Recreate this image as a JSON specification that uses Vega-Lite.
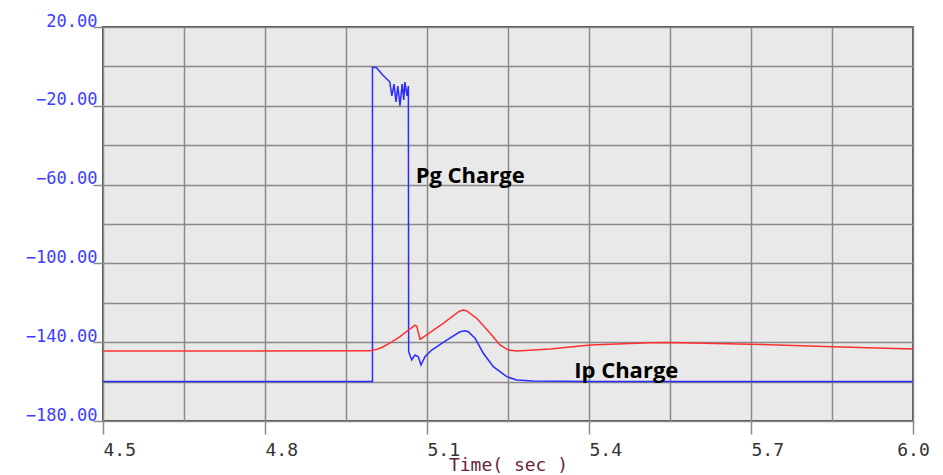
{
  "$schema": "https://vega.github.io/schema/vega-lite/v6.json",
  "width": 810,
  "height": 394,
  "autosize": "none",
  "padding": {"left": 103, "top": 27, "right": 30, "bottom": 54},
  "background": "white",
  "config": {
    "view": {"fill": "#e9e9e9", "stroke": "#4f4f4f", "strokeWidth": 2},
    "axis": {"grid": true, "gridColor": "#8a8a8a", "gridWidth": 1.5, "gridOpacity": 1, "domain": false}
  },
  "datasets": {
    "lines": [
      {"series": "Pg", "i": 1, "t": 4.5, "v": -160},
      {"series": "Pg", "i": 2, "t": 4.999, "v": -160},
      {"series": "Pg", "i": 3, "t": 4.999, "v": -0.5},
      {"series": "Pg", "i": 4, "t": 5.006, "v": -0.6},
      {"series": "Pg", "i": 5, "t": 5.018, "v": -4.4},
      {"series": "Pg", "i": 6, "t": 5.031, "v": -7.8},
      {"series": "Pg", "i": 7, "t": 5.035, "v": -15},
      {"series": "Pg", "i": 8, "t": 5.039, "v": -9},
      {"series": "Pg", "i": 9, "t": 5.0426, "v": -18},
      {"series": "Pg", "i": 10, "t": 5.046, "v": -10},
      {"series": "Pg", "i": 11, "t": 5.05, "v": -20},
      {"series": "Pg", "i": 12, "t": 5.054, "v": -9},
      {"series": "Pg", "i": 13, "t": 5.057, "v": -17},
      {"series": "Pg", "i": 14, "t": 5.059, "v": -8},
      {"series": "Pg", "i": 15, "t": 5.063, "v": -15},
      {"series": "Pg", "i": 16, "t": 5.0655, "v": -10},
      {"series": "Pg", "i": 17, "t": 5.066, "v": -144.8},
      {"series": "Pg", "i": 18, "t": 5.0717, "v": -149},
      {"series": "Pg", "i": 19, "t": 5.0778, "v": -146.5},
      {"series": "Pg", "i": 20, "t": 5.0839, "v": -147.4},
      {"series": "Pg", "i": 21, "t": 5.0889, "v": -151.6},
      {"series": "Pg", "i": 22, "t": 5.0963, "v": -147.4},
      {"series": "Pg", "i": 23, "t": 5.1087, "v": -144},
      {"series": "Pg", "i": 24, "t": 5.1365, "v": -138.9},
      {"series": "Pg", "i": 25, "t": 5.1611, "v": -134.7},
      {"series": "Pg", "i": 26, "t": 5.1704, "v": -134.2},
      {"series": "Pg", "i": 27, "t": 5.1765, "v": -134.7},
      {"series": "Pg", "i": 28, "t": 5.1889, "v": -138},
      {"series": "Pg", "i": 29, "t": 5.2043, "v": -145.6},
      {"series": "Pg", "i": 30, "t": 5.2228, "v": -152.4},
      {"series": "Pg", "i": 31, "t": 5.2476, "v": -157.5},
      {"series": "Pg", "i": 32, "t": 5.2661, "v": -159.2},
      {"series": "Pg", "i": 33, "t": 5.2963, "v": -159.7},
      {"series": "Pg", "i": 34, "t": 5.4, "v": -160},
      {"series": "Pg", "i": 35, "t": 6.0, "v": -160},
      {"series": "Ip", "i": 1, "t": 4.5, "v": -144.5},
      {"series": "Ip", "i": 2, "t": 4.994, "v": -144.4},
      {"series": "Ip", "i": 3, "t": 5.008, "v": -143.6},
      {"series": "Ip", "i": 4, "t": 5.019, "v": -142.3},
      {"series": "Ip", "i": 5, "t": 5.035, "v": -139.8},
      {"series": "Ip", "i": 6, "t": 5.05, "v": -137.2},
      {"series": "Ip", "i": 7, "t": 5.0778, "v": -131.3},
      {"series": "Ip", "i": 8, "t": 5.081, "v": -131.8},
      {"series": "Ip", "i": 9, "t": 5.087, "v": -138.5},
      {"series": "Ip", "i": 10, "t": 5.09, "v": -138},
      {"series": "Ip", "i": 11, "t": 5.13, "v": -130.4},
      {"series": "Ip", "i": 12, "t": 5.16, "v": -124.3},
      {"series": "Ip", "i": 13, "t": 5.167, "v": -123.7},
      {"series": "Ip", "i": 14, "t": 5.173, "v": -124},
      {"series": "Ip", "i": 15, "t": 5.192, "v": -127.9},
      {"series": "Ip", "i": 16, "t": 5.217, "v": -135.5},
      {"series": "Ip", "i": 17, "t": 5.235, "v": -141.4},
      {"series": "Ip", "i": 18, "t": 5.2506, "v": -144},
      {"series": "Ip", "i": 19, "t": 5.266, "v": -144.5},
      {"series": "Ip", "i": 20, "t": 5.297, "v": -144},
      {"series": "Ip", "i": 21, "t": 5.328, "v": -143.5},
      {"series": "Ip", "i": 22, "t": 5.402, "v": -141.4},
      {"series": "Ip", "i": 23, "t": 5.513, "v": -140.3},
      {"series": "Ip", "i": 24, "t": 5.55, "v": -140.1},
      {"series": "Ip", "i": 25, "t": 5.698, "v": -141},
      {"series": "Ip", "i": 26, "t": 5.852, "v": -142.3},
      {"series": "Ip", "i": 27, "t": 6.0, "v": -143.5}
    ],
    "labels": [
      {"label": "Pg Charge", "t": 5.18, "v": -55.6},
      {"label": "Ip Charge", "t": 5.469, "v": -154.6}
    ]
  },
  "encoding": {
    "x": {
      "field": "t", "type": "quantitative",
      "scale": {"domain": [4.5, 6.0], "nice": false, "zero": false},
      "axis": {
        "values": [4.5, 4.65, 4.8, 4.95, 5.1, 5.25, 5.4, 5.55, 5.7, 5.85, 6.0],
        "labelExpr": "abs((datum.value-4.5)/0.3 - round((datum.value-4.5)/0.3)) < 0.01 ? format(datum.value, '.1f') : ''",
        "labelFont": "DejaVu Sans Mono", "labelFontSize": 18, "labelColor": "#333333",
        "labelAlign": {"condition": {"test": "datum.value > 5.99", "value": "center"}, "value": "left"},
        "labelBaseline": "top", "labelPadding": 7, "labelOverlap": false, "labelBound": false, "labelFlush": false,
        "tickSize": 13, "tickColor": "#8a8a8a", "tickWidth": 1.5,
        "tickOpacity": {"condition": {"test": "abs((datum.value-4.5)/0.3 - round((datum.value-4.5)/0.3)) < 0.01", "value": 1}, "value": 0},
        "title": "Time( sec )", "titleFont": "DejaVu Sans Mono", "titleFontSize": 18, "titleFontWeight": "normal",
        "titleColor": "#6b1f3a", "titleBaseline": "top", "titleY": 35
      }
    },
    "y": {
      "field": "v", "type": "quantitative",
      "scale": {"domain": [-180, 20], "nice": false, "zero": false},
      "axis": {
        "values": [-180, -160, -140, -120, -100, -80, -60, -40, -20, 0, 20],
        "labelExpr": "(20 - datum.value) % 40 === 0 ? format(datum.value, '.2f') : ''",
        "labelFont": "DejaVu Sans Mono", "labelFontSize": 17, "labelColor": "#3d3dff",
        "labelAlign": "right", "labelBaseline": "alphabetic", "labelOffset": -1, "labelPadding": -4,
        "labelOverlap": false, "labelBound": false, "labelFlush": false,
        "tickSize": 10, "tickColor": "#8a8a8a", "tickWidth": 1.5,
        "tickOpacity": {"condition": {"test": "(20 - datum.value) % 40 === 0", "value": 1}, "value": 0},
        "title": null
      }
    }
  },
  "layer": [
    {
      "data": {"name": "lines"},
      "mark": {"type": "line", "strokeWidth": 1.5, "interpolate": "linear"},
      "encoding": {
        "order": {"field": "i", "type": "quantitative"},
        "detail": {"field": "series"},
        "color": {"field": "series", "type": "nominal", "scale": {"domain": ["Pg", "Ip"], "range": ["#2b2bff", "#ff3030"]}, "legend": null}
      }
    },
    {
      "data": {"name": "labels"},
      "mark": {"type": "text", "font": "Open Sans", "fontWeight": "bold", "fontSize": 22, "color": "#000000", "align": "center", "baseline": "middle"},
      "encoding": {
        "text": {"field": "label"}
      }
    }
  ]
}
